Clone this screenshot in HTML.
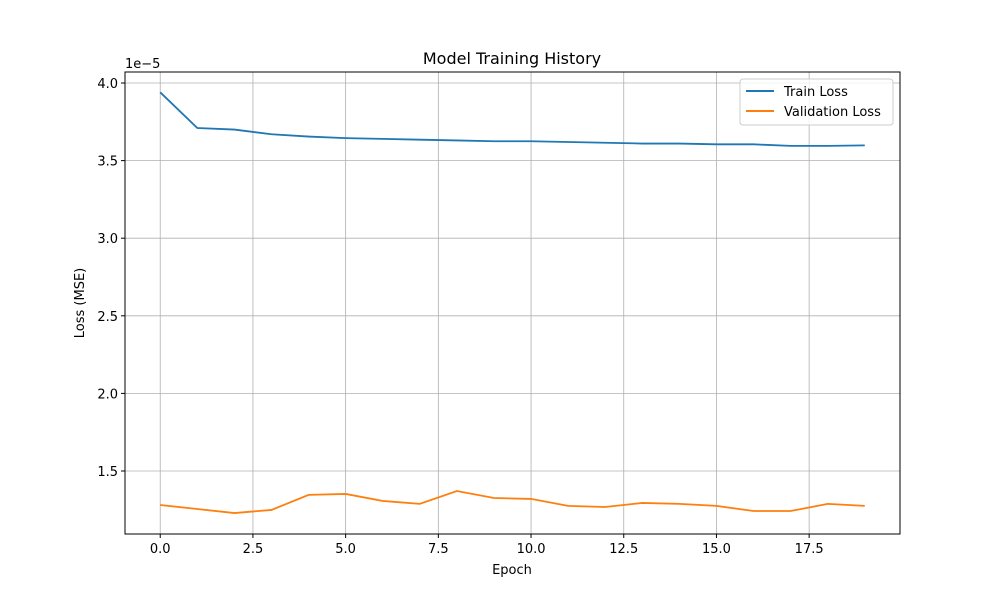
<!DOCTYPE html>
<html><head><meta charset="utf-8"><style>
body{margin:0;background:#fff}
svg{font-family:"DejaVu Sans","Liberation Sans",sans-serif}
</style></head><body>
<svg id="chart" width="1000" height="600">
<rect width="1000" height="600" fill="#fff"/>
<g id="grid"></g><g id="axes"></g><g id="lines"></g>
<text x="512" y="64" font-size="16" text-anchor="middle">Model Training History</text>
<text x="512" y="574" font-size="13" text-anchor="middle">Epoch</text>
<text transform="translate(84,303) rotate(-90)" font-size="13" text-anchor="middle">Loss (MSE)</text>
<text x="125" y="68" font-size="13">1e−5</text>
<g>
<rect x="740" y="79" width="153" height="46" rx="3" fill="#fff" fill-opacity="0.8" stroke="#ccc"/>
<line x1="746" y1="91" x2="774" y2="91" stroke="#1f77b4" stroke-width="2"/>
<text x="784" y="96" font-size="13">Train Loss</text>
<line x1="746" y1="111" x2="774" y2="111" stroke="#ff7f0e" stroke-width="2"/>
<text x="784" y="116" font-size="13">Validation Loss</text>
</g>
</svg>
<script>
const epochs=[0,1,2,3,4,5,6,7,8,9,10,11,12,13,14,15,16,17,18,19];
const trainLoss=[3.94,3.71,3.70,3.67,3.655,3.645,3.64,3.635,3.63,3.625,3.625,3.62,3.615,3.61,3.61,3.605,3.605,3.595,3.595,3.598];
const valLoss=[1.281,1.255,1.229,1.249,1.346,1.352,1.307,1.288,1.371,1.326,1.320,1.275,1.268,1.294,1.288,1.275,1.242,1.242,1.288,1.275];
const xTicks=[0,2.5,5,7.5,10,12.5,15,17.5];
const xTickLabels=["0.0","2.5","5.0","7.5","10.0","12.5","15.0","17.5"];
const yTicks=[1.5,2.0,2.5,3.0,3.5,4.0];
const yTickLabels=["1.5","2.0","2.5","3.0","3.5","4.0"];
const L=125,R=900,T=72,B=534,xmin=-0.95,xmax=19.95,ymin=1.094,ymax=4.071;
const sx=v=>L+(v-xmin)/(xmax-xmin)*(R-L);
const sy=v=>B-(v-ymin)/(ymax-ymin)*(B-T);
const NS="http://www.w3.org/2000/svg";
function mk(p,t,a){const e=document.createElementNS(NS,t);for(const k in a)e.setAttribute(k,a[k]);document.getElementById(p).appendChild(e);return e;}
xTicks.forEach((v,i)=>{const x=sx(v);
const g=mk('grid','line',{x1:x,x2:x,y1:T,y2:B,stroke:'#b0b0b0','stroke-width':0.8});

mk('axes','line',{x1:x,x2:x,y1:B,y2:B+4,stroke:'#000'});
const t=mk('axes','text',{x:x,y:B+19,'font-size':13,'text-anchor':'middle'});t.textContent=xTickLabels[i];
});
yTicks.forEach((v,i)=>{const y=sy(v);
const g=mk('grid','line',{x1:L,x2:R,y1:y,y2:y,stroke:'#b0b0b0','stroke-width':0.8});

mk('axes','line',{x1:L-4,x2:L,y1:y,y2:y,stroke:'#000'});
const t=mk('axes','text',{x:L-7,y:y+5,'font-size':13,'text-anchor':'end'});t.textContent=yTickLabels[i];
});
const fr=mk('axes','rect',{x:L,y:T,width:R-L,height:B-T,fill:'none',stroke:'#000','stroke-width':1});

const p1=mk('lines','polyline',{points:epochs.map((e,i)=>sx(e)+','+sy(trainLoss[i])).join(' '),fill:'none',stroke:'#1f77b4','stroke-width':1.8});

const p2=mk('lines','polyline',{points:epochs.map((e,i)=>sx(e)+','+sy(valLoss[i])).join(' '),fill:'none',stroke:'#ff7f0e','stroke-width':1.8});

</script>
</body></html>
